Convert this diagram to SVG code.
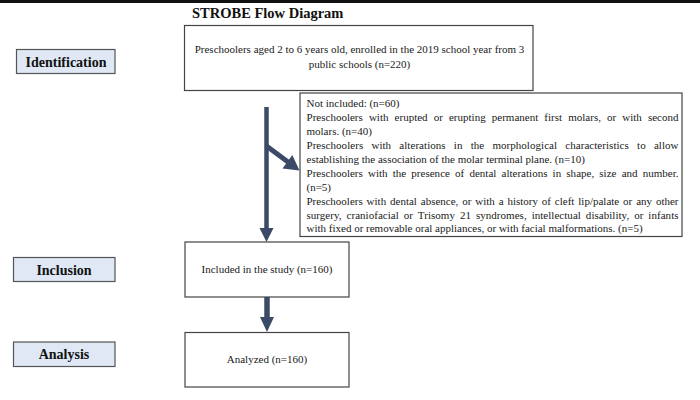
<svg xmlns="http://www.w3.org/2000/svg" width="700" height="400" viewBox="0 0 700 400">
  <style>
    .t { font-family: "Liberation Serif", "Times New Roman", serif; font-size: 11px; fill: #1a1a1a; }
    .lbl { font-family: "Liberation Serif", "Times New Roman", serif; font-size: 14px; font-weight: bold; fill: #111; }
    .box { fill: #ffffff; stroke: #444; stroke-width: 1.2; }
    .lbox { fill: #dfe8f4; stroke: #555; stroke-width: 1.2; }
    .arr { fill: #3b4a66; }
    .shaft { stroke: #3b4a66; fill: none; }
  </style>
  <rect x="0" y="0" width="700" height="400" fill="#ffffff"/>
  <rect x="0" y="0" width="700" height="3" fill="#111"/>
  <text x="192" y="18" class="lbl" style="font-size:14.5px">STROBE Flow Diagram</text>

  <g id="label-identification">
    <rect class="lbox" x="16.5" y="49.5" width="98.5" height="24"/>
    <text class="lbl" x="66" y="66.5" text-anchor="middle">Identification</text>
  </g>
  <g id="label-inclusion">
    <rect class="lbox" x="13.5" y="257.5" width="101.5" height="24"/>
    <text class="lbl" x="64" y="274.5" text-anchor="middle">Inclusion</text>
  </g>
  <g id="label-analysis">
    <rect class="lbox" x="13.5" y="342" width="101.5" height="24.5"/>
    <text class="lbl" x="64" y="359" text-anchor="middle">Analysis</text>
  </g>

  <g id="node-enrolled">
    <rect class="box" x="184.5" y="25.5" width="348.5" height="65"/>
    <text class="t" x="359.5" y="52.5" text-anchor="middle">Preschoolers aged 2 to 6 years old, enrolled in the 2019 school year from 3</text>
    <text class="t" x="359.5" y="68" text-anchor="middle">public schools (n=220)</text>
  </g>

  <g id="node-excluded">
    <rect class="box" x="300" y="93" width="382" height="143.5"/>
    <text class="t" x="306.5" y="107.3">Not included: (n=60)</text>
    <text class="t" x="306.5" y="121.2" word-spacing="3.3" textLength="372" lengthAdjust="spacing">Preschoolers with erupted or erupting permanent first molars, or with second</text>
    <text class="t" x="306.5" y="135.1">molars. (n=40)</text>
    <text class="t" x="306.5" y="149" word-spacing="5.4" textLength="372" lengthAdjust="spacing">Preschoolers with alterations in the morphological characteristics to allow</text>
    <text class="t" x="306.5" y="162.9">establishing the association of the molar terminal plane. (n=10)</text>
    <text class="t" x="306.5" y="176.8" word-spacing="2.4" textLength="372" lengthAdjust="spacing">Preschoolers with the presence of dental alterations in shape, size and number.</text>
    <text class="t" x="306.5" y="190.7">(n=5)</text>
    <text class="t" x="306.5" y="204.6" word-spacing="1.1" textLength="372" lengthAdjust="spacing">Preschoolers with dental absence, or with a history of cleft lip/palate or any other</text>
    <text class="t" x="306.5" y="218.5" word-spacing="2.2" textLength="372" lengthAdjust="spacing">surgery, craniofacial or Trisomy 21 syndromes, intellectual disability, or infants</text>
    <text class="t" x="306.5" y="232.4">with fixed or removable oral appliances, or with facial malformations. (n=5)</text>
  </g>

  <g id="node-included">
    <rect class="box" x="185" y="242" width="164" height="55"/>
    <text class="t" x="267" y="273.3" text-anchor="middle">Included in the study (n=160)</text>
  </g>

  <g id="node-analyzed">
    <rect class="box" x="185" y="332.5" width="164" height="54.5"/>
    <text class="t" x="267" y="363.3" text-anchor="middle">Analyzed (n=160)</text>
  </g>

  <g id="connectors">
    <line class="shaft" x1="266.5" y1="107" x2="266.5" y2="229" stroke-width="4.5"/>
    <polygon class="arr" points="259.5,228 273.5,228 266.5,242"/>
    <line class="shaft" x1="266.5" y1="146" x2="288" y2="162" stroke-width="5"/>
    <polygon class="arr" points="282.5,168.5 292.3,154.9 299.5,170.5"/>
    <line class="shaft" x1="267" y1="297" x2="267" y2="318" stroke-width="5.5"/>
    <polygon class="arr" points="260,317 274,317 267,332"/>
  </g>
</svg>
